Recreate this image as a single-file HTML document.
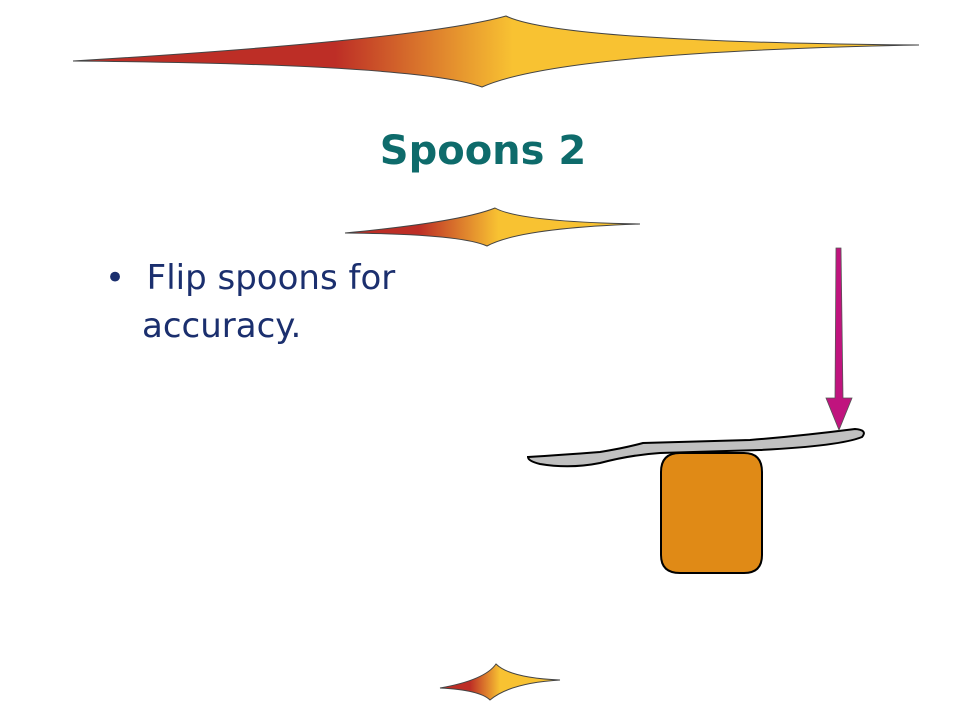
<!DOCTYPE html>
<html><head><style>
body{margin:0;width:960px;height:720px;background:#fff;overflow:hidden;position:relative;font-family:"Comic Sans MS","DejaVu Sans","Liberation Sans",sans-serif}
.t{position:absolute;left:0;width:966px;top:128px;text-align:center;font-size:40px;font-weight:bold;color:#0e6b6b}
.b{position:absolute;left:105px;top:254px;font-size:34px;color:#1b2f6e;line-height:48px}
</style></head><body>
<svg width="960" height="720" style="position:absolute;left:0;top:0">
<defs>
<linearGradient id="g1" gradientUnits="userSpaceOnUse" x1="73" x2="919"><stop offset="0.31" stop-color="#bd2e26"/><stop offset="0.52" stop-color="#f8c232"/></linearGradient>
<linearGradient id="g2" gradientUnits="userSpaceOnUse" x1="345" x2="640"><stop offset="0.25" stop-color="#bd2e26"/><stop offset="0.52" stop-color="#f8c232"/></linearGradient>
<linearGradient id="g3" gradientUnits="userSpaceOnUse" x1="440" x2="560"><stop offset="0.25" stop-color="#bd2e26"/><stop offset="0.5" stop-color="#f8c232"/></linearGradient>
</defs>
<path d="M73,61 Q420,40 506,16 Q560,42 919,45 Q560,52 482,87 Q420,64 73,61Z" fill="url(#g1)" stroke="#444" stroke-width="1"/>
<path d="M345,233 Q460,222 495,208 Q520,222 640,224 Q520,228 487,246 Q460,234 345,233Z" fill="url(#g2)" stroke="#444" stroke-width="1"/>
<path d="M440,688 Q485,680 496,664 Q510,678 560,680 Q510,683 490,700 Q480,690 440,688Z" fill="url(#g3)" stroke="#444" stroke-width="1"/>
<path d="M680,453 L744,453 Q762,453 762,472 L762,555 Q762,573 744,573 L680,573 Q661,573 661,555 L661,472 Q661,453 680,453Z" fill="#e08a16" stroke="#000" stroke-width="2"/>
<path d="M528,457 Q560,455 600,452 Q625,448 643,443 L750,440 Q800,436 855,429 Q868,430 862,437 Q840,446 760,450 L660,453 Q630,455 600,463 Q570,469 540,464 Q528,461 528,457Z" fill="#c0c0c0" stroke="#000" stroke-width="2"/>
<polygon points="836,248 841,248 843,398 852,398 839,430 826,398 835,398" fill="#c0147e" stroke="#555" stroke-width="0.8"/>
</svg>
<div class="t">Spoons 2</div>
<div class="b">•&nbsp;&nbsp;Flip spoons for<br><span style="padding-left:37px">accuracy.</span></div>
</body></html>
